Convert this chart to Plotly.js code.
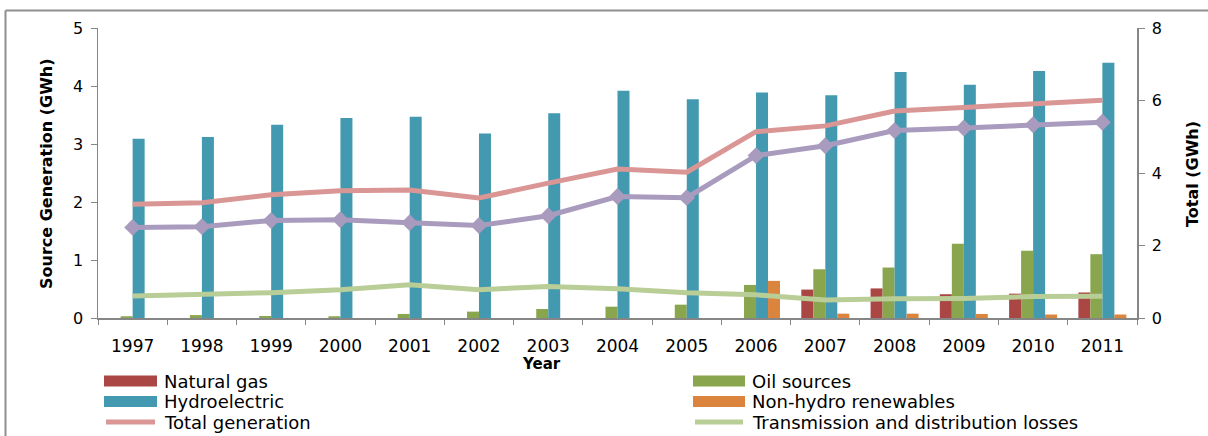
<!DOCTYPE html>
<html>
<head>
<meta charset="utf-8">
<script src="https://cdn.plot.ly/plotly-3.0.1.min.js"></script>
<style>html,body{margin:0;padding:0;background:#fff;}#chart{width:1208px;height:436px;}</style>
</head>
<body>
<div id="chart"></div>
<script>
// ---- data ----
const years = ['1997','1998','1999','2000','2001','2002','2003','2004','2005','2006','2007','2008','2009','2010','2011'];
const naturalGas = [0,0,0,0,0,0,0,0,0,0,0.49,0.51,0.41,0.42,0.44];
const oilSources = [0.03,0.05,0.035,0.03,0.07,0.11,0.155,0.195,0.23,0.57,0.84,0.87,1.28,1.16,1.10];
const hydroelectric = [3.09,3.12,3.33,3.45,3.47,3.18,3.53,3.92,3.77,3.89,3.84,4.24,4.02,4.26,4.40];
const nonHydro = [0,0,0,0,0,0,0,0,0,0.64,0.075,0.075,0.07,0.06,0.06];
const totalGeneration = [3.14,3.18,3.40,3.51,3.53,3.31,3.72,4.11,4.02,5.14,5.30,5.71,5.81,5.92,6.01];
const netConsumption = [2.50,2.52,2.69,2.71,2.63,2.55,2.82,3.35,3.32,4.48,4.75,5.17,5.24,5.33,5.40];
const tdLosses = [0.61,0.64,0.70,0.78,0.92,0.78,0.87,0.81,0.70,0.64,0.50,0.53,0.54,0.59,0.60];
const seriesNames = ['Natural gas','Oil sources','Hydroelectric','Non-hydro renewables','Total generation','Transmission and distribution losses'];
const leftTicks = [0,1,2,3,4,5];
const rightTicks = [0,2,4,6,8];

// ---- styles ----
const C = {gas:'#AA4643', oil:'#89A54E', hydro:'#4299B0', nh:'#DB843D', total:'#D99694', net:'#A99BBD', loss:'#B9CD96'};
const W = 1208, H = 436, L = 98, R = 1137, T = 28, B = 318;
const px = x => (x - L) / (R - L);
const py = y => (B - y) / (B - T);
const FONT = 'DejaVu Sans, Liberation Sans, Arial, sans-serif';

const bar = (y, name, color) => ({type:'bar', x:years, y:y, name:name, marker:{color:color}, hoverinfo:'x+y+name'});
const traces = [
  bar(naturalGas, seriesNames[0], C.gas),
  bar(oilSources, seriesNames[1], C.oil),
  bar(hydroelectric, seriesNames[2], C.hydro),
  bar(nonHydro, seriesNames[3], C.nh),
  {type:'scatter', mode:'lines', x:years, y:totalGeneration, name:seriesNames[4], yaxis:'y2', line:{color:C.total, width:5}},
  {type:'scatter', mode:'lines+markers', x:years, y:netConsumption, name:'Net', yaxis:'y2', line:{color:C.net, width:5}, marker:{symbol:'diamond', size:13, color:C.net}},
  {type:'scatter', mode:'lines', x:years, y:tdLosses, name:seriesNames[5], yaxis:'y2', line:{color:C.loss, width:5}}
];

const shapes = [
  {type:'line', xref:'paper', yref:'paper', x0:px(5.5), x1:px(5.5), y0:py(10.5), y1:py(440), line:{color:'#8E8E8E', width:2}},
  {type:'line', xref:'paper', yref:'paper', x0:px(5.5), x1:px(1212), y0:py(10.5), y1:py(10.5), line:{color:'#8E8E8E', width:2}}
];
const annotations = [
  {xref:'paper', yref:'paper', x:px(541), y:py(364), text:'<b>Year</b>', showarrow:false, xanchor:'center', yanchor:'middle', font:{family:FONT, size:15, color:'#000'}},
  {xref:'paper', yref:'paper', x:px(46), y:py(174), text:'<b>Source Generation (GWh)</b>', textangle:-90, showarrow:false, xanchor:'center', yanchor:'middle', font:{family:FONT, size:16, color:'#000'}},
  {xref:'paper', yref:'paper', x:px(1192), y:py(174), text:'<b>Total (GWh)</b>', textangle:-90, showarrow:false, xanchor:'center', yanchor:'middle', font:{family:FONT, size:16, color:'#000'}}
];
// custom legend (2 columns)
const legendItems = [
  {name:seriesNames[0], color:C.gas, kind:'bar', col:0, row:0},
  {name:seriesNames[1], color:C.oil, kind:'bar', col:1, row:0},
  {name:seriesNames[2], color:C.hydro, kind:'bar', col:0, row:1},
  {name:seriesNames[3], color:C.nh, kind:'bar', col:1, row:1},
  {name:seriesNames[4], color:C.total, kind:'line', col:0, row:2},
  {name:seriesNames[5], color:C.loss, kind:'line', col:1, row:2}
];
const colX = [[104,157,162],[693,745,750]];
const rowY = [381,401.5,422];
legendItems.forEach(it => {
  const [s0,s1,tx] = colX[it.col];
  const yc = rowY[it.row];
  if (it.kind === 'bar') {
    shapes.push({type:'rect', xref:'paper', yref:'paper', x0:px(s0), x1:px(s1), y0:py(yc-5.5), y1:py(yc+5.5), fillcolor:it.color, line:{width:0}});
  } else {
    shapes.push({type:'line', xref:'paper', yref:'paper', x0:px(s0+2), x1:px(s1-2), y0:py(yc), y1:py(yc), line:{color:it.color, width:5}});
  }
  annotations.push({xref:'paper', yref:'paper', x:px(tx), y:py(yc), text:it.name, showarrow:false, xanchor:'left', yanchor:'middle', font:{family:FONT, size:18, color:'#000'}});
});

const axisCommon = {showline:true, linecolor:'#868686', linewidth:1.5, ticks:'outside', tickcolor:'#868686', ticklen:6, showgrid:false, zeroline:false, tickfont:{family:FONT, size:16, color:'#000'}};
const layout = {
  width:W, height:H,
  margin:{l:L, r:W-R, t:T, b:H-B, pad:0},
  paper_bgcolor:'#fff', plot_bgcolor:'#fff',
  showlegend:false,
  barmode:'group', bargap:0.307, bargroupgap:0,
  xaxis:Object.assign({}, axisCommon, {type:'category', range:[-0.5, years.length - 0.5], autorange:false, tickson:'boundaries', ticklen:5, ticklabelstandoff:12, tickfont:{family:FONT, size:17, color:'#000'}}),
  yaxis:Object.assign({}, axisCommon, {range:[0,5], tickvals:leftTicks, ticktext:leftTicks.map(String), ticklabelstandoff:4}),
  yaxis2:Object.assign({}, axisCommon, {range:[0,8], tickvals:rightTicks, ticktext:rightTicks.map(String), overlaying:'y', side:'right', ticklabelstandoff:4}),
  shapes:shapes,
  annotations:annotations
};
Plotly.newPlot('chart', traces, layout, {displayModeBar:false, staticPlot:true});
</script>
</body>
</html>
